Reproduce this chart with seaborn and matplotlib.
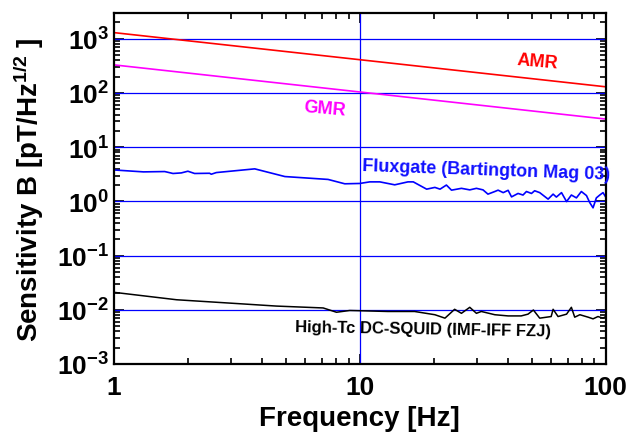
import numpy as np
import pandas as pd
import matplotlib
matplotlib.use("Agg")
import matplotlib.pyplot as plt
from matplotlib.ticker import FuncFormatter, LogLocator, NullFormatter
import seaborn as sns

# --- data ---
amr_freq = [1, 100]
amr_noise = [1300, 130]

gmr_freq = [1, 100]
gmr_noise = [330, 33]

flux_freq = [1.0, 1.32, 1.61, 1.74, 1.88, 2.0, 2.13, 2.45, 2.49, 2.61, 3.74, 4.96,
             7.43, 8.69, 10.0, 10.98, 12.06, 13.87, 15.7, 16.5, 18.7, 20.2, 21.2,
             22.5, 23.6, 25.9, 28.0, 29.8, 31.7, 33.2, 35.4, 36.5, 38.3, 40.1,
             41.4, 44.0, 46.1, 47.6, 49.9, 51.4, 53.9, 58.3, 61.1, 63.0, 66.1,
             69.3, 72.5, 76.0, 79.6, 83.5, 86.1, 88.8, 91.6, 94.6, 97.5, 100.0]
flux_noise = [3.8, 3.5, 3.55, 3.27, 3.35, 3.6, 3.27, 3.3, 3.17, 3.4, 3.98, 2.87,
              2.54, 2.11, 2.14, 2.29, 2.29, 2.02, 2.29, 2.29, 1.68, 1.81, 1.68,
              2.0, 1.61, 1.74, 1.63, 1.74, 1.63, 1.36, 1.52, 1.61, 1.45, 1.6,
              1.21, 1.4, 1.31, 1.52, 1.4, 1.57, 1.45, 1.1, 1.36, 1.2, 1.45,
              0.99, 1.31, 1.16, 1.52, 1.28, 0.95, 0.76, 1.16, 1.31, 1.45, 1.2]

squid_freq = [1.0, 1.8, 3.36, 4.58, 7.1, 8.04, 9.1, 10.0, 13.0, 16.7, 20.2, 22.2,
              24.3, 25.9, 28.0, 29.8, 31.2, 35.4, 40.1, 45.3, 48.3, 50.8, 53.9,
              60.0, 61.1, 64.0, 69.3, 72.5, 74.8, 78.5, 84.8, 88.8, 93.0, 97.5, 100.0]
squid_noise = [0.021, 0.0153, 0.0128, 0.0117, 0.0108, 0.0090, 0.0097, 0.0096,
               0.0093, 0.0093, 0.0081, 0.0070, 0.0102, 0.0086, 0.0111, 0.0086,
               0.0093, 0.0081, 0.0077, 0.0077, 0.0083, 0.0099, 0.0070, 0.0075,
               0.0102, 0.0075, 0.0083, 0.0111, 0.0073, 0.0081, 0.0073, 0.0068,
               0.0075, 0.0070, 0.0075]

grid_levels = [1e-2, 1e-1, 1, 10, 100, 1000]

sns.set_style("ticks")
plt.rcParams['font.family'] = ['Liberation Sans', 'DejaVu Sans']
plt.rcParams['font.weight'] = 'bold'
plt.rcParams['mathtext.fontset'] = 'custom'
plt.rcParams['mathtext.rm'] = 'Liberation Sans:bold'
plt.rcParams['mathtext.it'] = 'Liberation Sans:bold'
plt.rcParams['mathtext.bf'] = 'Liberation Sans:bold'
for key in ['text.color', 'axes.labelcolor', 'xtick.color', 'ytick.color',
            'axes.edgecolor']:
    plt.rcParams[key] = 'black'

fig = plt.figure(figsize=(6.29, 4.35), dpi=100)
ax = fig.add_axes([0.181, 0.161, 0.782, 0.807])
ax.set_xscale('log')
ax.set_yscale('log')

for lvl in grid_levels:
    ax.axhline(lvl, color='#0000ff', lw=0.9, zorder=1)
ax.axvline(10, color='#0000ff', lw=0.9, zorder=1)

sns.lineplot(x=amr_freq, y=amr_noise, color='#ff0000', lw=1.2, ax=ax)
sns.lineplot(x=gmr_freq, y=gmr_noise, color='#ff00ff', lw=1.2, ax=ax)
sns.lineplot(x=flux_freq, y=flux_noise, color='#0000ff', lw=1.2, ax=ax)
sns.lineplot(x=squid_freq, y=squid_noise, color='black', lw=1.1, ax=ax)

ax.set_xlim(1, 100)
ax.set_ylim(1e-3, 3000)

ax.text(53, 385, 'AMR', color='#ff0000', fontsize=13, fontweight='bold',
        ha='center', va='center', rotation=-5)
ax.text(7.2, 52, 'GMR', color='#ff00ff', fontsize=13, fontweight='bold',
        ha='center', va='center', rotation=-5)
ax.text(10.2, 3.9, 'Fluxgate (Bartington Mag 03)', color='#1010ff', fontsize=13,
        fontweight='bold', ha='left', va='center', rotation=-2)
ax.text(5.44, 0.0044, 'High-Tc DC-SQUID (IMF-IFF FZJ)', color='black',
        fontsize=12, fontweight='bold', ha='left', va='center', rotation=-1)

ax.yaxis.set_major_locator(LogLocator(base=10, numticks=20))
ax.yaxis.set_minor_locator(LogLocator(base=10, subs=np.arange(2, 10), numticks=20))
ax.yaxis.set_minor_formatter(NullFormatter())
ax.yaxis.set_major_formatter(FuncFormatter(
    lambda v, p: r'$\mathbf{10^{%d}}$' % int(round(np.log10(v)))))
ax.xaxis.set_major_formatter(FuncFormatter(lambda v, p: '%g' % v))
ax.xaxis.set_minor_formatter(NullFormatter())

ax.tick_params(which='both', direction='in', top=True, right=True, width=1.2,
               labelsize=19, colors='black')
ax.tick_params(which='major', length=7)
ax.tick_params(which='minor', length=4)
ax.tick_params(axis='x', pad=8)
for sp in ax.spines.values():
    sp.set_linewidth(1.6)
    sp.set_color('black')

ax.set_xlabel('Frequency [Hz]', fontsize=20, fontweight='bold', labelpad=4)
ax.set_ylabel(r'Sensitivity B [pT/Hz$^{1/2}$ ]', fontsize=20, fontweight='bold',
              labelpad=8)

fig.savefig('out.png', dpi=100)
